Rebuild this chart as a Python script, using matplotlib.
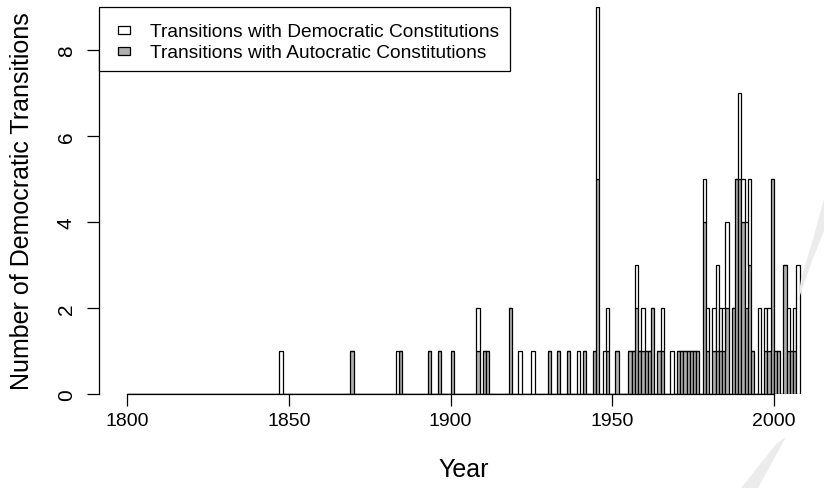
import numpy as np
import matplotlib
matplotlib.use("Agg")
import matplotlib.pyplot as plt
from matplotlib.patches import Rectangle, Polygon

plt.rcParams['font.family'] = ['Liberation Sans', 'DejaVu Sans']

# years with at least one transition, split by the kind of constitution
years = [1847, 1869, 1883, 1884, 1893, 1896, 1900, 1908, 1910, 1911,
         1918, 1921, 1925, 1930, 1933, 1936, 1939, 1941, 1944, 1945,
         1947, 1948, 1951, 1955, 1956, 1957, 1958, 1959, 1960, 1961,
         1962, 1964, 1965, 1968, 1970, 1971, 1972, 1973, 1974, 1975,
         1976, 1978, 1979, 1981, 1982, 1983, 1984, 1985, 1987, 1988,
         1989, 1990, 1991, 1992, 1993, 1995, 1997, 1998, 1999, 2000,
         2001, 2003, 2004, 2005, 2006, 2007]
autocratic = [0, 1, 0, 1, 1, 1, 1, 1, 1, 1,
              2, 0, 0, 1, 1, 1, 0, 1, 1, 5,
              0, 1, 1, 1, 1, 2, 1, 1, 1, 1,
              2, 1, 1, 0, 1, 1, 1, 1, 1, 1,
              1, 4, 1, 1, 1, 1, 1, 2, 2, 5,
              5, 4, 2, 3, 1, 0, 1, 1, 5, 1,
              1, 3, 1, 1, 1, 0]
democratic = [1, 0, 1, 0, 0, 0, 0, 1, 0, 0,
              0, 1, 1, 0, 0, 0, 1, 0, 0, 4,
              1, 1, 0, 0, 0, 1, 0, 1, 0, 0,
              0, 0, 1, 1, 0, 0, 0, 0, 0, 0,
              0, 1, 1, 1, 2, 1, 1, 2, 0, 0,
              2, 1, 2, 2, 0, 2, 1, 1, 0, 0,
              0, 0, 1, 0, 1, 3]

year_ticks = [1800, 1850, 1900, 1950, 2000]
count_ticks = [0, 2, 4, 6, 8]
legend_labels = ["Transitions with Democratic Constitutions",
                 "Transitions with Autocratic Constitutions"]

first, last = 1800, 2007
all_years = np.arange(first, last + 1)
auto_full = np.zeros(len(all_years))
dem_full = np.zeros(len(all_years))
for y, a, d in zip(years, autocratic, democratic):
    auto_full[y - first] = a
    dem_full[y - first] = d

W, H = 824, 489
fig = plt.figure(figsize=(W / 100, H / 100), dpi=100)

def fx(px):
    return px / W

def fy(py):
    return 1 - py / H

# plot region in pixels
px_per_year = 3.232
x0_px, top_px, base_px = 99.0, 8.0, 395.0
xmin = first - (127.4 - x0_px) / px_per_year
xmax = last + 1 + 8.32
ax_w = (xmax - xmin) * px_per_year
ax = fig.add_axes([x0_px / W, (H - base_px) / H, ax_w / W, (base_px - top_px) / H])

# faint grey swooshes along the right edge
for pts in ([(824, 200), (824, 232), (812, 262), (798, 302), (801, 280), (813, 240)],
            [(741, 489), (758, 489), (786, 438), (777, 444)]):
    fig.patches.append(Polygon([(fx(px), fy(py)) for px, py in pts], closed=True,
                               transform=fig.transFigure, facecolor='#ececec',
                               edgecolor='none', zorder=0))

gray = '#b0b0b0'
ax.bar(all_years, auto_full, width=1, align='edge', color=gray,
       edgecolor='black', linewidth=0.9)
ax.bar(all_years, dem_full, width=1, bottom=auto_full, align='edge',
       color='white', edgecolor='black', linewidth=0.9)

ax.set_xlim(xmin, xmax)
ax.set_ylim(0, 9)
ax.patch.set_alpha(0)
for s in ['top', 'right']:
    ax.spines[s].set_visible(False)
ax.spines['left'].set_bounds(0, 8)
ax.spines['bottom'].set_bounds(1800, 2000)
ax.spines['left'].set_linewidth(0.9)
ax.spines['bottom'].set_linewidth(0.9)

ax.set_xticks(year_ticks)
ax.set_xticklabels([str(v) for v in year_ticks])
ax.set_yticks(count_ticks)
ax.set_yticklabels([str(v) for v in count_ticks], rotation=90, va='center')
ax.tick_params(axis='x', length=8.6, width=0.9, pad=4.5, labelsize=14)
ax.tick_params(axis='y', length=8.6, width=0.9, pad=8, labelsize=15)

fig.text(fx(22), fy(201.5), "Number of Democratic Transitions",
         rotation=90, ha='center', va='center', fontsize=18)
fig.text(fx(464), fy(470), "Year", ha='center', va='center', fontsize=18)

# legend box drawn in figure pixels
fig.patches.append(Rectangle((fx(99), fy(72)), fx(510) - fx(99), fy(8) - fy(72),
                             transform=fig.transFigure, facecolor='white',
                             edgecolor='black', linewidth=0.9))
for i, (label, fill) in enumerate(zip(legend_labels, ['white', gray])):
    sq_top = 26.7 + i * 21.2
    fig.patches.append(Rectangle((fx(118), fy(sq_top + 8)), fx(130) - fx(118), fy(sq_top) - fy(sq_top + 8),
                                 transform=fig.transFigure, facecolor=fill,
                                 edgecolor='black', linewidth=0.9))
    fig.text(fx(150), fy(37.3 + i * 21.2), label, ha='left', va='baseline', fontsize=13.8)

fig.savefig("out.png", dpi=100)
